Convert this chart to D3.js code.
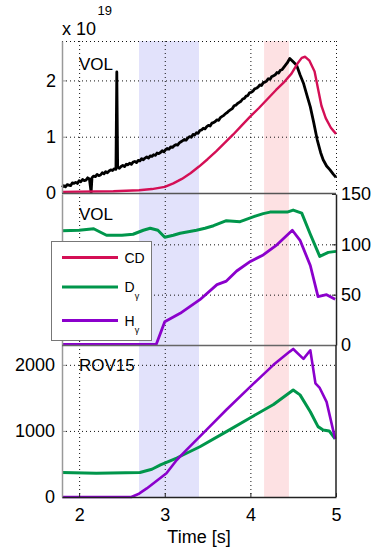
<!DOCTYPE html>
<html lang="en">
<head>
<meta charset="UTF-8">
<title>VOL / ROV15 vs time</title>
<script src="https://d3js.org/d3.v7.min.js"></script>
<style>
    body { margin: 0; background: #fff; }
    svg { font-family: Arial, "Liberation Sans", sans-serif; }
</style>
</head>
<body>
<svg width="373" height="553"></svg>
<script>
// time axis
const xTicks = [2, 3, 4, 5];
const blueBand = [2.70, 3.40];
const pinkBand = [4.16, 4.45];

// top panel, x 10^19
const y1Ticks = [0, 1, 2];
const volData = [
    [1.80,0.10],[1.82,0.13],[1.84,0.11],[1.86,0.15],[1.88,0.14],[1.90,0.13],[1.92,0.18],[1.94,0.17],
    [1.96,0.19],[1.98,0.17],[2.00,0.22],[2.02,0.20],[2.04,0.24],[2.06,0.22],[2.08,0.23],[2.10,0.27],
    [2.12,0.25],[2.14,0.01],[2.15,0.27],[2.17,0.30],[2.19,0.29],[2.21,0.33],[2.23,0.31],[2.25,0.32],
    [2.27,0.36],[2.29,0.34],[2.31,0.38],[2.33,0.36],[2.35,0.39],[2.37,0.41],[2.39,0.40],[2.41,0.43],
    [2.43,0.42],[2.44,2.15],[2.45,0.46],[2.47,0.44],[2.49,0.47],[2.51,0.49],[2.53,0.47],[2.55,0.51],
    [2.57,0.50],[2.59,0.53],[2.61,0.51],[2.63,0.55],[2.65,0.56],[2.67,0.54],[2.69,0.58],[2.71,0.57],
    [2.73,0.61],[2.75,0.59],[2.77,0.62],[2.79,0.64],[2.81,0.62],[2.83,0.66],[2.85,0.65],[2.87,0.68],
    [2.89,0.67],[2.91,0.71],[2.93,0.70],[2.95,0.72],[2.97,0.75],[2.99,0.73],[3.01,0.77],[3.03,0.79],
    [3.05,0.78],[3.07,0.82],[3.09,0.81],[3.11,0.84],[3.13,0.86],[3.15,0.85],[3.17,0.89],[3.19,0.91],
    [3.21,0.93],[3.23,0.95],[3.25,0.94],[3.27,0.98],[3.29,1.00],[3.31,0.99],[3.33,1.04],[3.35,1.03],
    [3.37,1.07],[3.39,1.06],[3.41,1.11],[3.43,1.12],[3.45,1.15],[3.47,1.14],[3.49,1.18],[3.51,1.20],
    [3.53,1.19],[3.55,1.24],[3.57,1.25],[3.59,1.27],[3.61,1.30],[3.63,1.29],[3.65,1.34],[3.67,1.36],
    [3.69,1.38],[3.71,1.41],[3.73,1.43],[3.75,1.46],[3.77,1.48],[3.79,1.50],[3.81,1.55],[3.83,1.56],
    [3.85,1.59],[3.87,1.61],[3.89,1.63],[3.91,1.67],[3.93,1.68],[3.95,1.72],[3.97,1.73],[3.99,1.78],
    [4.01,1.79],[4.03,1.81],[4.05,1.85],[4.07,1.86],[4.09,1.88],[4.11,1.92],[4.13,1.91],[4.15,1.96],
    [4.17,1.97],[4.19,1.99],[4.21,2.03],[4.23,2.02],[4.25,2.07],[4.27,2.08],[4.29,2.10],[4.31,2.14],
    [4.33,2.13],[4.35,2.18],[4.37,2.19],[4.39,2.23],[4.41,2.27],[4.43,2.31],[4.46,2.39],[4.50,2.33],
    [4.54,2.27],[4.58,2.10],[4.62,1.95],[4.66,1.74],[4.70,1.53],[4.74,1.25],[4.78,0.95],[4.82,0.72],
    [4.85,0.59],[4.89,0.48],[4.93,0.41],[4.97,0.33],[5.00,0.28]
];
const cdData = [
    [1.80,0.02],[2.40,0.03],[2.70,0.05],[2.85,0.07],[3.00,0.11],[3.10,0.17],[3.20,0.25],[3.30,0.35],
    [3.40,0.47],[3.50,0.60],[3.60,0.74],[3.70,0.89],[3.80,1.04],[3.90,1.20],[4.00,1.36],[4.10,1.51],
    [4.20,1.67],[4.30,1.83],[4.40,1.98],[4.48,2.12],[4.55,2.30],[4.60,2.40],[4.64,2.42],[4.69,2.35],
    [4.75,2.16],[4.79,1.85],[4.83,1.55],[4.88,1.33],[4.94,1.16],[5.00,1.05]
];

// middle panel (right axis)
const y2Ticks = [0, 50, 100, 150];
const dVolData = [
    [1.80,113.5],[2.00,114],[2.17,115.5],[2.25,112],[2.32,109],[2.50,109],[2.63,110],[2.75,114],
    [2.83,116],[2.92,114],[3.00,107],[3.10,109],[3.18,111],[3.37,114],[3.47,116],[3.57,118.5],
    [3.72,123.5],[3.88,122.5],[4.04,127.5],[4.15,130.5],[4.23,132],[4.43,132],[4.50,134],[4.60,131],
    [4.70,110],[4.81,88],[4.91,92],[5.00,93]
];
const hVolData = [
    [1.80,0.5],[2.90,0.5],[3.00,23],[3.18,31.5],[3.41,45],[3.61,60],[3.72,63.5],[3.84,73.5],
    [4.00,83],[4.15,89.5],[4.31,99.5],[4.49,114],[4.58,104],[4.70,79],[4.79,48],[4.89,50],[4.99,45.5]
];

// bottom panel ROV15
const y3Ticks = [0, 1000, 2000];
const dRovData = [
    [1.80,370],[2.20,360],[2.71,370],[2.85,420],[2.95,485],[3.14,590],[3.41,760],[3.72,990],
    [4.00,1200],[4.27,1400],[4.50,1620],[4.58,1545],[4.70,1290],[4.79,1065],[4.85,1015],[4.92,1000],
    [4.99,880]
];
const hRovData = [
    [1.80,0],[2.61,0],[2.70,50],[2.79,130],[3.02,360],[3.14,560],[3.26,720],[3.49,1020],[3.72,1320],
    [4.00,1670],[4.27,2000],[4.46,2200],[4.50,2240],[4.62,2090],[4.70,2220],[4.76,1720],[4.81,1650],
    [4.89,1440],[4.99,880]
];

const colCD = "#d40f55", colD = "#00964b", colH = "#8b00cc";

const svg = d3.select("svg");

const x = d3.scaleLinear().domain([1.8, 5]).range([62, 336]);
const y1 = d3.scaleLinear().domain([0, 2.7]).range([193, 41]);
const y2 = d3.scaleLinear().domain([0, 150]).range([345, 194]);
const y3 = d3.scaleLinear().domain([0, 2300]).range([497, 345]);

const plotTop = 41, plotBottom = 497;

// shaded time windows
[[blueBand, "#e2e2fb"], [pinkBand, "#fde1e3"]].forEach(([b, c]) => {
    svg.append("rect")
        .attr("x", x(b[0])).attr("y", plotTop)
        .attr("width", x(b[1]) - x(b[0])).attr("height", plotBottom - plotTop)
        .attr("fill", c);
});

// dotted grid
const grid = svg.append("g")
    .attr("stroke", "#111").attr("stroke-width", 1).attr("stroke-dasharray", "1,3");

[[y1, [1, 2, 2.7]], [y2, [50, 100]], [y3, [1000, 2000]]].forEach(([ys, vals]) => {
    grid.selectAll(null).data(vals).enter().append("line")
        .attr("x1", x.range()[0]).attr("x2", x.range()[1])
        .attr("y1", d => ys(d) + 0.5).attr("y2", d => ys(d) + 0.5);
});
grid.selectAll(null).data(xTicks.filter(d => d < 5)).enter().append("line")
    .attr("x1", d => x(d) + 0.5).attr("x2", d => x(d) + 0.5)
    .attr("y1", plotTop).attr("y2", plotBottom);
grid.append("line")
    .attr("x1", x(5) + 0.5).attr("x2", x(5) + 0.5)
    .attr("y1", plotTop).attr("y2", y1(0));

// series
function drawLine(data, ys, color, w) {
    svg.append("path")
        .datum(data)
        .attr("fill", "none")
        .attr("stroke", color)
        .attr("stroke-width", w)
        .attr("stroke-linejoin", "round")
        .attr("d", d3.line().x(d => x(d[0])).y(d => ys(d[1])));
}
drawLine(volData, y1, "#000", 2.8);
drawLine(cdData, y1, colCD, 2.4);
drawLine(dVolData, y2, colD, 3);
drawLine(hVolData, y2, colH, 2.8);
drawLine(dRovData, y3, colD, 3);
drawLine(hRovData, y3, colH, 2.6);

// axes
function styleAxis(g, domainColor) {
    g.attr("font-size", 18).attr("font-family", null);
    g.select(".domain").attr("stroke", domainColor).attr("stroke-width", 1.5);
    g.selectAll(".tick line").attr("stroke", domainColor);
    g.selectAll(".tick text").attr("fill", "#000");
}
const plain = d => String(d);

svg.append("g")
    .attr("transform", "translate(62,0)")
    .call(d3.axisLeft(y1).tickValues(y1Ticks).tickFormat(plain).tickSize(-4).tickSizeOuter(0).tickPadding(6))
    .call(g => styleAxis(g, "#999"));

svg.append("g")
    .attr("transform", "translate(62,0)")
    .call(d3.axisLeft(y2).tickValues([]).tickSizeOuter(0))
    .call(g => styleAxis(g, "#999"));

svg.append("g")
    .attr("transform", "translate(336,0)")
    .call(d3.axisRight(y2).tickValues(y2Ticks).tickFormat(plain).tickSize(-4).tickSizeOuter(0).tickPadding(5))
    .call(g => styleAxis(g, "#222"));

svg.append("g")
    .attr("transform", "translate(62,0)")
    .call(d3.axisLeft(y3).tickValues(y3Ticks).tickFormat(plain).tickSize(-4).tickSizeOuter(0).tickPadding(7))
    .call(g => styleAxis(g, "#999"));

svg.append("g")
    .attr("transform", "translate(0,497)")
    .call(d3.axisBottom(x).tickValues(xTicks).tickFormat(plain).tickSize(-4).tickSizeOuter(0).tickPadding(11))
    .call(g => styleAxis(g, "#222"));

// panel separators and right edge of bottom panel
[[y1(0), "#555"], [y2(0), "#666"]].forEach(([yy, c]) => {
    svg.append("line")
        .attr("x1", 62).attr("x2", 336).attr("y1", yy + 0.5).attr("y2", yy + 0.5)
        .attr("stroke", c).attr("stroke-width", 1.5);
});
svg.append("line")
    .attr("x1", 336).attr("x2", 336).attr("y1", y3.range()[1]).attr("y2", 497)
    .attr("stroke", "#222").attr("stroke-width", 1.5);

// labels
svg.append("text").attr("x", 62).attr("y", 35).attr("font-size", 18).text("x 10");
svg.append("text").attr("x", 97.5).attr("y", 15).attr("font-size", 13).text("19");
svg.append("text").attr("x", 79).attr("y", 70).attr("font-size", 17).text("VOL");
svg.append("text").attr("x", 79).attr("y", 220).attr("font-size", 17).text("VOL");
svg.append("text").attr("x", 79).attr("y", 370.5).attr("font-size", 17).text("ROV15");
svg.append("text").attr("x", 199).attr("y", 543).attr("font-size", 18)
    .attr("text-anchor", "middle").text("Time [s]");

// legend
const legendItems = [
    { name: "CD", sub: "", color: colCD, y: 257.5 },
    { name: "D", sub: "γ", color: colD, y: 287 },
    { name: "H", sub: "γ", color: colH, y: 320.5 }
];
const legend = svg.append("g");
legend.append("rect")
    .attr("x", 51.5).attr("y", 241.5).attr("width", 100).attr("height", 99)
    .attr("fill", "#fff").attr("stroke", "#777").attr("stroke-width", 1);
const li = legend.selectAll("g.item").data(legendItems).enter().append("g");
li.append("line")
    .attr("x1", 62).attr("x2", 118)
    .attr("y1", d => d.y).attr("y2", d => d.y)
    .attr("stroke", d => d.color).attr("stroke-width", 3);
const lt = li.append("text")
    .attr("x", 124.5)
    .attr("y", d => d.y + 5)
    .attr("font-size", 14);
lt.append("tspan").text(d => d.name);
lt.append("tspan").attr("font-size", 9).attr("dy", 7).text(d => d.sub);
</script>
</body>
</html>
